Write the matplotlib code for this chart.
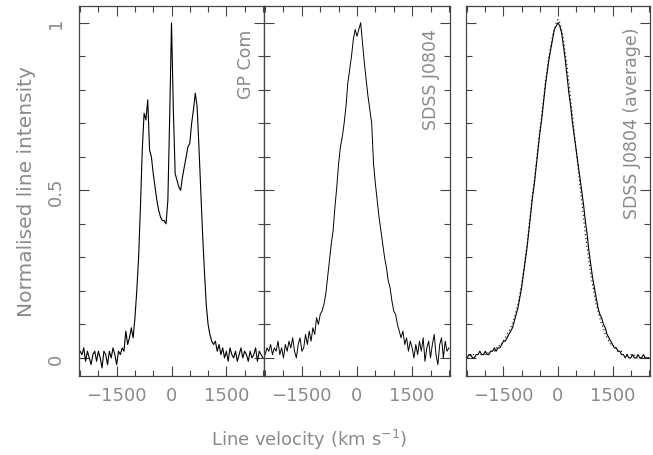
import numpy as np
import matplotlib
matplotlib.use("Agg")
import matplotlib.pyplot as plt
from matplotlib.ticker import MultipleLocator, FixedLocator

# ---------------- data ----------------
vel = list(range(-2500, 2501, 50))

gpcom = [0.02, 0.01, 0.03, -0.01, 0.02, 0.00, -0.02, 0.01, 0.02, -0.01,
         0.02, 0.00, -0.03, 0.02, 0.01, -0.02, 0.02, 0.00, 0.03, 0.01,
         -0.02, 0.02, 0.01, 0.03, 0.02, 0.08, 0.04, 0.06, 0.09, 0.06,
         0.12, 0.20, 0.30, 0.45, 0.62, 0.73, 0.71, 0.77, 0.62, 0.60,
         0.55, 0.51, 0.47, 0.44, 0.42, 0.41, 0.41, 0.40, 0.47, 0.72,
         1.00, 0.74, 0.55, 0.53, 0.51, 0.50, 0.54, 0.57, 0.60, 0.63,
         0.64, 0.70, 0.74, 0.79, 0.75, 0.63, 0.50, 0.37, 0.26, 0.16,
         0.10, 0.07, 0.05, 0.04, 0.05, 0.02, 0.04, 0.01, 0.03, 0.00,
         0.02, -0.01, 0.03, 0.01, 0.00, 0.02, -0.01, 0.01, 0.03, 0.00,
         0.02, 0.01, -0.01, 0.02, 0.00, 0.01, 0.03, -0.01, 0.02, 0.01,
         0.00]

j0804 = [0.01, 0.03, 0.02, 0.04, 0.01, 0.03, 0.02, 0.05, 0.01, 0.03,
         0.00, 0.04, 0.02, 0.05, 0.03, 0.06, 0.02, 0.00, 0.04, 0.06,
         0.02, 0.03, 0.07, 0.04, 0.08, 0.05, 0.09, 0.07, 0.12, 0.10,
         0.13, 0.14, 0.16, 0.19, 0.24, 0.29, 0.34, 0.38, 0.45, 0.51,
         0.58, 0.63, 0.66, 0.70, 0.75, 0.82, 0.86, 0.90, 0.95, 0.98,
         0.96, 0.98, 1.00, 0.94, 0.88, 0.83, 0.78, 0.74, 0.70, 0.58,
         0.52, 0.47, 0.42, 0.38, 0.34, 0.30, 0.27, 0.23, 0.21, 0.17,
         0.14, 0.13, 0.10, 0.08, 0.06, 0.08, 0.04, 0.06, 0.02, 0.05,
         0.03, 0.00, 0.04, 0.01, 0.05, 0.02, 0.06, -0.01, 0.03, 0.05,
         0.00, 0.04, 0.07, 0.01, -0.02, 0.04, 0.06, 0.00, 0.05, 0.02,
         0.03]

avg_obs = [0.00, 0.01, 0.01, 0.00, 0.00, 0.01, 0.01, 0.02, 0.01, 0.01,
           0.02, 0.01, 0.01, 0.02, 0.02, 0.03, 0.02, 0.03, 0.03, 0.04,
           0.05, 0.05, 0.06, 0.07, 0.08, 0.09, 0.11, 0.13, 0.15, 0.18,
           0.21, 0.25, 0.29, 0.33, 0.38, 0.43, 0.48, 0.52, 0.57, 0.62,
           0.67, 0.71, 0.76, 0.81, 0.85, 0.89, 0.92, 0.95, 0.98, 0.99,
           1.00, 0.99, 0.97, 0.93, 0.89, 0.84, 0.79, 0.75, 0.70, 0.66,
           0.62, 0.58, 0.54, 0.50, 0.46, 0.41, 0.37, 0.32, 0.28, 0.24,
           0.21, 0.18, 0.15, 0.13, 0.12, 0.10, 0.09, 0.07, 0.06, 0.05,
           0.04, 0.03, 0.03, 0.02, 0.02, 0.01, 0.01, 0.00, 0.01, 0.00,
           0.00, 0.01, 0.00, 0.00, 0.01, 0.00, 0.00, 0.01, 0.00, 0.00,
           0.00]

avg_fit = [0.00, 0.00, 0.01, 0.01, 0.01, 0.01, 0.01, 0.01, 0.01, 0.01,
           0.01, 0.01, 0.02, 0.02, 0.02, 0.02, 0.03, 0.03, 0.04, 0.04,
           0.05, 0.06, 0.07, 0.08, 0.09, 0.10, 0.12, 0.14, 0.16, 0.19,
           0.22, 0.26, 0.30, 0.34, 0.39, 0.44, 0.49, 0.53, 0.58, 0.63,
           0.68, 0.72, 0.77, 0.82, 0.86, 0.90, 0.93, 0.96, 0.98, 1.00,
           1.01, 1.00, 0.98, 0.95, 0.91, 0.87, 0.82, 0.77, 0.72, 0.67,
           0.62, 0.57, 0.52, 0.47, 0.42, 0.37, 0.33, 0.29, 0.25, 0.22,
           0.19, 0.16, 0.14, 0.12, 0.10, 0.09, 0.07, 0.06, 0.05, 0.04,
           0.04, 0.03, 0.03, 0.02, 0.02, 0.02, 0.01, 0.01, 0.01, 0.01,
           0.01, 0.01, 0.01, 0.00, 0.00, 0.00, 0.00, 0.00, 0.00, 0.00,
           0.00]

panel_names = ["GP Com", "SDSS J0804", "SDSS J0804 (average)"]
xtick_vals = [-1500, 0, 1500]
ytick_vals = [0, 0.5, 1]
ytick_labels = ["0", "0.5", "1"]

# ---------------- figure ----------------
TXT = "#8a8a8a"
FRAME = "#444444"
FS = 13

fig = plt.figure(figsize=(6.53, 4.56), dpi=100)
bottom, height = 0.1732, 0.8114
ax1 = fig.add_axes([0.121, bottom, 0.2833, height])
ax2 = fig.add_axes([0.4043, bottom, 0.2848, height])
ax3 = fig.add_axes([0.7136, bottom, 0.2818, height])
axes = [ax1, ax2, ax3]

ax1.plot(vel, gpcom, color="black", lw=0.8)
ax2.plot(vel, j0804, color="black", lw=0.7)
ax3.plot(vel, avg_obs, color="black", lw=0.8)
ax3.plot(vel, avg_fit, color="black", lw=0.8, ls=(0, (1, 2.5)))

label_pos = [(0.905, 0.94), (0.896, 0.94), (0.902, 0.945)]
for ax, name, (lx, ly) in zip(axes, panel_names, label_pos):
    ax.set_xlim(-2530, 2530)
    ax.set_ylim(-0.054, 1.05)
    ax.xaxis.set_major_locator(FixedLocator(xtick_vals))
    ax.xaxis.set_minor_locator(MultipleLocator(500))
    ax.yaxis.set_major_locator(FixedLocator(ytick_vals))
    ax.yaxis.set_minor_locator(MultipleLocator(0.1))
    ax.tick_params(which="both", direction="in", top=True, right=True,
                   color=FRAME, width=0.8, labelcolor=TXT, labelsize=FS)
    ax.tick_params(which="major", length=7, pad=7)
    ax.tick_params(which="minor", length=4)
    for s in ax.spines.values():
        s.set_color(FRAME)
        s.set_linewidth(0.9)
    ax.text(lx, ly, name, rotation=90, ha="center", va="top",
            transform=ax.transAxes, color=TXT, fontsize=12.5)

ax1.set_yticklabels(ytick_labels, rotation=90, va="center")
ax1.tick_params(axis="y", pad=10)
ax2.set_yticklabels([])
ax3.set_yticklabels([])

ax1.set_ylabel("Normalised line intensity", color=TXT, fontsize=14.5, labelpad=8)
fig.text(0.473, 0.035, r"Line velocity (km s$^{-1}$)", ha="center", va="center",
         color=TXT, fontsize=FS)

fig.savefig("out.png", dpi=100, facecolor="white")
